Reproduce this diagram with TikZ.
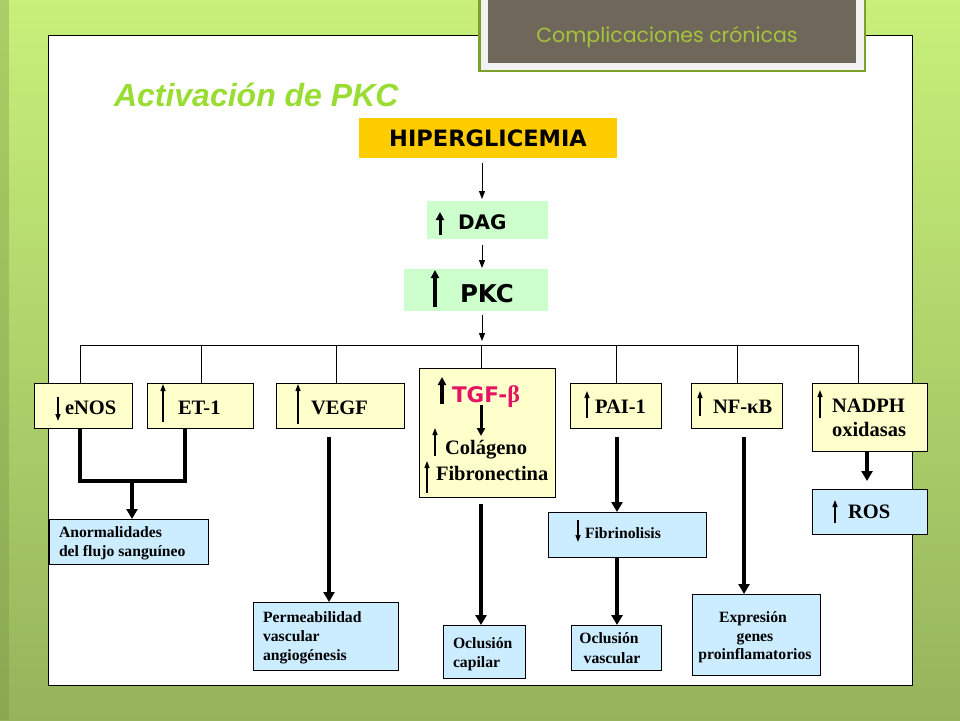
\documentclass[tikz,border=0pt]{standalone}
\usepackage{fontspec}
\setmainfont{Liberation Serif}
\newfontfamily\verd{DejaVu Sans}
\newfontfamily\arialf{Liberation Sans}
\newfontfamily\gothic{Poppins}
\usetikzlibrary{arrows.meta,calc}
\definecolor{bgtop}{RGB}{200,240,122}
\definecolor{bgmid}{RGB}{168,208,92}
\definecolor{bgbot}{RGB}{150,180,92}
\definecolor{hgreen}{RGB}{125,160,42}
\definecolor{hgray}{RGB}{242,242,242}
\definecolor{hbrown}{RGB}{111,103,90}
\definecolor{htext}{RGB}{165,196,60}
\definecolor{titlegreen}{RGB}{153,221,51}
\definecolor{hipfill}{RGB}{255,204,0}
\definecolor{greenfill}{RGB}{204,255,204}
\definecolor{yfill}{RGB}{255,255,204}
\definecolor{bfill}{RGB}{204,236,255}
\definecolor{tgfred}{RGB}{228,20,100}
\begin{document}
\begin{tikzpicture}[x=1pt,y=-1pt,
  plain/.style={inner sep=0pt, outer sep=0pt},
  ybox/.style={plain, draw=black, line width=0.9pt, fill=yfill},
  bbox/.style={plain, draw=black, line width=0.9pt, fill=bfill},
  gbox/.style={plain, fill=greenfill},
  big/.style={plain, font=\bfseries\fontsize{20.5}{24}\selectfont},
  small/.style={plain, font=\bfseries\fontsize{15.7}{19}\selectfont},
  sans/.style={plain, font=\verd\bfseries\fontsize{#1}{#1}\selectfont},
  thinarr/.style={line width=1pt, -{Triangle[width=6pt,length=8pt]}},
  thinline/.style={line width=1pt},
  thk/.style={line width=4pt},
  thkarr/.style={line width=4pt, -{Triangle[width=11pt,length=10pt]}},
  uparr/.style={line width=1.3pt, -{Triangle[width=5pt,length=7pt]}},
  fatup/.style={line width=3.5pt, -{Triangle[width=8pt,length=8pt]}},
]
\useasboundingbox (0,0) rectangle (960,720);
% background
\shade[top color=bgtop, middle color=bgmid, bottom color=bgbot] (0,0) rectangle (960,720);
\fill[black!30!bgmid, opacity=0.35] (0,0) rectangle (9,720);
% white panel
\filldraw[fill=white, draw=black, line width=1pt] (48,35.5) rectangle (912.5,685);
% header
\filldraw[fill=hgray, draw=hgreen, line width=2.5pt] (479.25,-5) rectangle (864.75,70.75);
\fill[hbrown] (488,-5) rectangle (856,63);
\node[plain, anchor=base, text=htext, font=\gothic\fontsize{20.5}{20.5}\selectfont] (htitle) at (667,42) {Complicaciones crónicas};
% title
\node[plain, anchor=base west, text=titlegreen, font=\arialf\bfseries\itshape\fontsize{32}{32}\selectfont] (title) at (114,106) {Activación de PKC};

% top chain
\node[plain, fill=hipfill, minimum width=258pt, minimum height=40pt] (hip) at (488,138) {};
\node[sans=22.5, anchor=base] (hipT) at (488,146.5) {HIPERGLICEMIA};
\node[gbox, minimum width=121pt, minimum height=38pt] (dag) at (487.5,220) {};
\node[sans=20, anchor=base west] (dagT) at (458,229) {DAG};
\draw[fatup, line width=3pt] (440,235) -- (440,212);
\node[gbox, minimum width=144pt, minimum height=42pt] (pkc) at (476,290) {};
\node[sans=24.5, anchor=base west] (pkcT) at (460,302.5) {PKC};
\draw[fatup, line width=4pt] (435,307) -- (435,270);

\coordinate (ax) at (482,0);
\draw[thinarr] ($(hip.south -| ax)+(0,5)$) -- ($(dag.north -| ax)+(0,-2)$);
\draw[thinarr] ($(dag.south -| ax)+(0,6)$) -- ($(pkc.north -| ax)+(0,-1)$);
\coordinate (pk1) at ($(pkc.south -| ax)+(0,4)$);
\coordinate (pk2) at (482,341);
\draw[thinarr] (pk1) -- (pk2);

% yellow boxes
\node[ybox, minimum width=98pt, minimum height=45pt] (enos) at (83,405.5) {};
\node[ybox, minimum width=106pt, minimum height=45pt] (et1) at (200,405.5) {};
\node[ybox, minimum width=128pt, minimum height=45pt] (vegf) at (340,405.5) {};
\node[ybox, minimum width=136pt, minimum height=129pt] (tgf) at (487,432.5) {};
\node[ybox, minimum width=91pt, minimum height=45pt] (pai) at (615.5,405.5) {};
\node[ybox, minimum width=91pt, minimum height=45pt] (nfkb) at (736.5,405.5) {};
\node[ybox, minimum width=115pt, minimum height=68pt] (nadph) at (869.5,417) {};

% bracket
\coordinate (t1) at (80,345);
\coordinate (t2) at (201,345);
\coordinate (t3) at (336,345);
\coordinate (t4) at (481,345);
\coordinate (t5) at (616,345);
\coordinate (t6) at (737,345);
\coordinate (t7) at (858,345);
\draw[thinline] (t1) -- (t7);
\draw[thinline] (t1) -- (t1 |- enos.north);
\draw[thinline] (t2) -- (t2 |- et1.north);
\draw[thinline] (t3) -- (t3 |- vegf.north);
\draw[thinline] (t4) -- (t4 |- tgf.north);
\draw[thinline] (t5) -- (t5 |- pai.north);
\draw[thinline] (t6) -- (t6 |- nfkb.north);
\draw[thinline] (t7) -- (t7 |- nadph.north);

% yellow labels
\draw[uparr] (58,397) -- (58,421);
\node[big, anchor=base west] (enosT) at (65,414) {eNOS};
\draw[uparr] (163,422) -- (163,384);
\node[big, anchor=base west] (et1T) at (178,414) {ET-1};
\draw[uparr] (298,424) -- (298,384);
\node[big, anchor=base west] (vegfT) at (311,414) {VEGF};
\draw[fatup] (442,404) -- (442,377);
\node[sans=21.5, anchor=base west, text=tgfred] (tgfT) at (452,402) {TGF-{\rmfamily\bfseries\fontsize{24}{24}\selectfont β}};
\draw[fatup, line width=3pt] (481,405) -- (481,436);
\draw[uparr] (435,456) -- (435,428);
\node[big, anchor=base west] (colT) at (445,454) {Colágeno};
\draw[uparr] (427,493) -- (427,461);
\node[big, anchor=base west] (fibT) at (436,480) {Fibronectina};
\draw[uparr] (587,418) -- (587,391);
\node[big, anchor=base west] (paiT) at (595,413) {PAI-1};
\draw[uparr] (700,416) -- (700,391);
\node[big, anchor=base west] (nfkbT) at (713,413) {NF-κB};
\draw[uparr] (820,418) -- (820,390);
\node[big, anchor=base west] (nadT1) at (832,412) {NADPH};
\node[big, anchor=base west] (nadT2) at (832,436) {oxidasas};

% blue boxes
\node[bbox, minimum width=159pt, minimum height=45pt] (anorm) at (128.5,541.5) {};
\node[bbox, minimum width=145pt, minimum height=68pt] (perm) at (325.5,636) {};
\node[bbox, minimum width=82pt, minimum height=53pt] (ocap) at (484,651.5) {};
\node[bbox, minimum width=158pt, minimum height=45pt] (fibr) at (627,534.5) {};
\node[bbox, minimum width=90pt, minimum height=45pt] (ovas) at (616,647.5) {};
\node[bbox, minimum width=128pt, minimum height=81pt] (expr) at (756,634.5) {};
\node[bbox, minimum width=115pt, minimum height=45pt] (ros) at (869.5,511.5) {};

% blue labels
\node[small, anchor=base west] (anT1) at (59,537) {Anormalidades};
\node[small, anchor=base west] (anT2) at (59,556) {del flujo sanguíneo};
\node[small, anchor=base west] (peT1) at (263,622) {Permeabilidad};
\node[small, anchor=base west] (peT2) at (263,641) {vascular};
\node[small, anchor=base west] (peT3) at (263,660) {angiogénesis};
\node[small, anchor=base west] (ocT1) at (453,648) {Oclusión};
\node[small, anchor=base west] (ocT2) at (453,667) {capilar};
\draw[uparr] (578,520) -- (578,542);
\node[small, anchor=base west] (fiT) at (585,538) {Fibrinolisis};
\node[small, anchor=base] (ovT1) at (609,643) {Oclusión};
\node[small, anchor=base] (ovT2) at (612,663) {vascular};
\node[small, anchor=base] (exT1) at (753,622) {Expresión};
\node[small, anchor=base] (exT2) at (755,641) {genes};
\node[small, anchor=base] (exT3) at (755,659) {proinflamatorios};
\draw[uparr] (835,523) -- (835,500);
\node[big, anchor=base west] (rosT) at (848,518) {ROS};

% thick connectors
\coordinate (j1) at (80,481);
\coordinate (j2) at (185,481);
\coordinate (j3) at (132,481);
\draw[thk] (j1 |- enos.south) -- (j1) -- (j2) -- (j2 |- et1.south);
\draw[thkarr] (j3) -- (j3 |- anorm.north);
\coordinate (cv) at (329,437);
\draw[thkarr] (cv) -- (cv |- perm.north);
\coordinate (ct) at (481,504);
\draw[thkarr] (ct) -- (ct |- ocap.north);
\coordinate (cp) at (617,437);
\draw[thkarr] (cp) -- (cp |- fibr.north);
\draw[thkarr] (cp |- fibr.south) -- (cp |- ovas.north);
\coordinate (cn) at (744,437);
\draw[thkarr] (cn) -- (cn |- expr.north);
\coordinate (cr) at (867,451);
\draw[thkarr] (cr) -- ($(cr |- ros.north)+(0,-8)$);
\end{tikzpicture}
\end{document}
